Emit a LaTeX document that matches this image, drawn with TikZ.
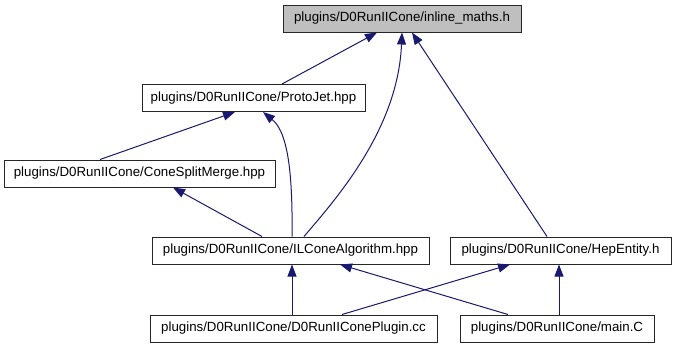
\documentclass[tikz,border=0pt]{standalone}
\usepackage{fontspec}
\setmainfont{Liberation Sans}
\usetikzlibrary{arrows.meta,calc}
\definecolor{edgeblue}{HTML}{191970}
\definecolor{boxgray}{HTML}{BFBFBF}
\begin{document}
\begin{tikzpicture}[x=1pt,y=-1pt,
  box/.style={draw=black!85, line width=1pt, minimum height=27pt, inner sep=0pt, font=\fontsize{13.3}{15}\selectfont},
  dep/.style={draw=edgeblue, line width=1pt, {Triangle[length=12pt,width=9pt]}-}]
\useasboundingbox (0,0) rectangle (675,349);
\node[box, fill=boxgray, minimum width=238pt] (inl) at (402,18.5) {plugins/D0RunIICone/inline\_maths.h};
\node[box, minimum width=223pt] (pj) at (253.5,98) {plugins/D0RunIICone/ProtoJet.hpp};
\node[box, minimum width=271pt] (csm) at (139.5,173.5) {plugins/D0RunIICone/ConeSplitMerge.hpp};
\node[box, minimum width=277pt] (ilc) at (290.5,250.5) {plugins/D0RunIICone/ILConeAlgorithm.hpp};
\node[box, minimum width=221pt] (hep) at (560.5,250.5) {plugins/D0RunIICone/HepEntity.h};
\node[box, minimum width=287pt] (plg) at (293.5,328.5) {plugins/D0RunIICone/D0RunIIConePlugin.cc};
\node[box, minimum width=194pt] (mc) at (557,328.5) {plugins/D0RunIICone/main.C};
% edges
\draw[dep] ($(inl.south)+(-25,0)$) -- ($(pj.north)+(28.5,0)$);
\draw[dep] (inl.south) .. controls (398,130) and (335,200) .. ($(ilc.north)+(13.5,0)$);
\draw[dep] ($(inl.south)+(10,0)$) -- ($(hep.north)+(-13.5,0)$);
\draw[dep] ($(pj.south)+(-18.5,0)$) -- ($(csm.north)+(-39.5,0)$);
\draw[dep] ($(pj.south)+(9.5,0)$) .. controls (285,130) and (293,160) .. ($(ilc.north)+(1.5,0)$);
\draw[dep] ($(csm.south)+(33.5,0)$) -- ($(ilc.north)+(-28.5,0)$);
\draw[dep] ($(ilc.south)+(1.5,0)$) -- ($(plg.north)+(-1.5,0)$);
\draw[dep] ($(ilc.south)+(49.5,0)$) -- ($(mc.north)+(-49,0)$);
\draw[dep] ($(hep.south)+(-50.5,0)$) -- ($(plg.north)+(48.5,0)$);
\draw[dep] ($(hep.south)+(-1.5,0)$) -- ($(mc.north)+(2,0)$);
\end{tikzpicture}
\end{document}
